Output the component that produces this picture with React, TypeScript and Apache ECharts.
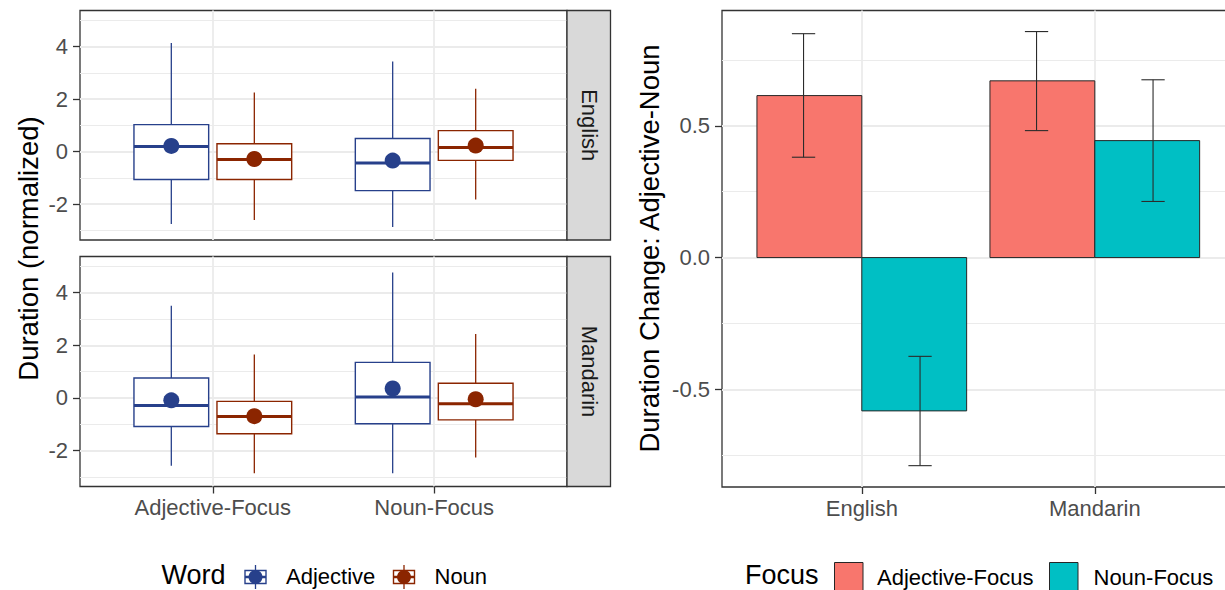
import React, { useEffect, useRef } from "react";
import * as echarts from "echarts";

const facets = ["English", "Mandarin"];
const focusLevels = ["Adjective-Focus", "Noun-Focus"];
const wordLevels = ["Adjective", "Noun"];

// box stats per focus level: [min, q1, median, q3, max, mean]
const englishAdjective = [
  [-2.75, -1.06, 0.2, 1.03, 4.13, 0.22],
  [-2.87, -1.48, -0.43, 0.5, 3.43, -0.34],
];
const englishNoun = [
  [-2.6, -1.06, -0.3, 0.3, 2.25, -0.28],
  [-1.82, -0.33, 0.16, 0.8, 2.39, 0.23],
];
const mandarinAdjective = [
  [-2.57, -1.08, -0.29, 0.76, 3.5, -0.09],
  [-2.86, -0.98, 0.04, 1.35, 4.76, 0.36],
];
const mandarinNoun = [
  [-2.86, -1.36, -0.7, -0.13, 1.65, -0.69],
  [-2.26, -0.83, -0.22, 0.56, 2.43, -0.05],
];
const durationTicks = [-2, 0, 2, 4];
const durationMinorTicks = [-3, -1, 1, 3, 5];

// right panel: mean change and error bar limits, per language
const changeAdjFocus = [0.615, 0.671];
const changeAdjFocusLow = [0.381, 0.482];
const changeAdjFocusHigh = [0.85, 0.858];
const changeNounFocus = [-0.582, 0.444];
const changeNounFocusLow = [-0.79, 0.213];
const changeNounFocusHigh = [-0.375, 0.675];
const changeTicks = [-0.5, 0, 0.5];
const changeMinorTicks = [-0.75, -0.25, 0.25, 0.75];

const BLUE = "#27408B";
const RED = "#8B2500";
const PINK = "#F8766D";
const TEAL = "#00BFC4";
const GRID = "#EBEBEB";
const BORDER = "#333333";
const TICKTEXT = "#4D4D4D";
const FONT = "'Liberation Sans', Arial, Helvetica, sans-serif";

const BOX_DODGE = 0.1875;
const BOX_HALF = 0.16875;
const BAR_HALF = 0.225;
const ERR_DODGE = 0.25;
const CAP_HALF = 0.05;

function boxRender(color: string) {
  return (params: any, api: any) => {
    const x = api.value(0);
    const pMin = api.coord([x, api.value(1)]);
    const pQ1 = api.coord([x, api.value(2)]);
    const pMed = api.coord([x, api.value(3)]);
    const pQ3 = api.coord([x, api.value(4)]);
    const pMax = api.coord([x, api.value(5)]);
    const pMean = api.coord([x, api.value(6)]);
    const left = api.coord([x - BOX_HALF, 0])[0];
    const right = api.coord([x + BOX_HALF, 0])[0];
    return {
      type: "group",
      children: [
        { type: "line", shape: { x1: pMax[0], y1: pMax[1], x2: pQ3[0], y2: pQ3[1] }, style: { stroke: color, lineWidth: 1.3 } },
        { type: "line", shape: { x1: pQ1[0], y1: pQ1[1], x2: pMin[0], y2: pMin[1] }, style: { stroke: color, lineWidth: 1.3 } },
        { type: "rect", shape: { x: left, y: pQ3[1], width: right - left, height: pQ1[1] - pQ3[1] }, style: { fill: "#ffffff", stroke: color, lineWidth: 1.4 } },
        { type: "line", shape: { x1: left, y1: pMed[1], x2: right, y2: pMed[1] }, style: { stroke: color, lineWidth: 3 } },
        { type: "circle", shape: { cx: pMean[0], cy: pMean[1], r: 8 }, style: { fill: color } },
      ],
    };
  };
}

function boxSeries(stats: number[][], offset: number, color: string, axisIndex: number) {
  return {
    type: "custom",
    xAxisIndex: axisIndex,
    yAxisIndex: axisIndex * 2,
    encode: { x: 0, y: [1, 2, 3, 4, 5, 6] },
    data: stats.map((s, i) => [i + 1 + offset, ...s]),
    renderItem: boxRender(color),
    z: 5,
  };
}

function barRender(color: string) {
  return (params: any, api: any) => {
    const x = api.value(0);
    const p0 = api.coord([x - BAR_HALF, 0]);
    const p1 = api.coord([x + BAR_HALF, api.value(1)]);
    const y = Math.min(p0[1], p1[1]);
    return {
      type: "rect",
      shape: { x: p0[0], y, width: p1[0] - p0[0], height: Math.abs(p1[1] - p0[1]) },
      style: { fill: color, stroke: "#262626", lineWidth: 1 },
    };
  };
}

function errRender(params: any, api: any) {
  const x = api.value(0);
  const lo = api.coord([x, api.value(1)]);
  const hi = api.coord([x, api.value(2)]);
  const l = api.coord([x - CAP_HALF, 0])[0];
  const r = api.coord([x + CAP_HALF, 0])[0];
  const st = { stroke: "#2b2b2b", lineWidth: 1.1 };
  return {
    type: "group",
    children: [
      { type: "line", shape: { x1: lo[0], y1: lo[1], x2: hi[0], y2: hi[1] }, style: st },
      { type: "line", shape: { x1: l, y1: lo[1], x2: r, y2: lo[1] }, style: st },
      { type: "line", shape: { x1: l, y1: hi[1], x2: r, y2: hi[1] }, style: st },
    ],
  };
}

function xAxisDef(gridIndex: number, labels: string[] | null) {
  return {
    type: "value",
    gridIndex,
    min: 0.4,
    max: 2.6,
    position: "bottom",
    axisLine: { show: false, onZero: false },
    axisTick: {
      show: !!labels,
      customValues: [1, 2],
      length: 7,
      lineStyle: { color: BORDER, width: 1.3 },
    },
    axisLabel: {
      show: !!labels,
      customValues: [1, 2],
      formatter: (v: number) => (labels ? labels[Math.round(v) - 1] : ""),
      fontSize: 22,
      color: TICKTEXT,
      fontFamily: FONT,
      margin: 10,
    },
    splitLine: { show: true, lineStyle: { color: GRID, width: 1.8 } },
  };
}

function yAxisPair(gridIndex: number, min: number, max: number, ticks: number[], minor: number[], fmt: (v: number) => string) {
  return [
    {
      type: "value",
      gridIndex,
      min,
      max,
      position: "left",
      axisLine: { show: false, onZero: false },
      axisTick: { show: true, customValues: ticks, length: 7, lineStyle: { color: BORDER, width: 1.3 } },
      axisLabel: { customValues: ticks, formatter: fmt, fontSize: 22, color: TICKTEXT, fontFamily: FONT, margin: 12 },
      splitLine: { show: true, lineStyle: { color: GRID, width: 1.8 } },
    },
    {
      type: "value",
      gridIndex,
      min,
      max,
      position: "left",
      axisLine: { show: false, onZero: false },
      axisTick: { show: false, customValues: minor },
      axisLabel: { show: false, customValues: minor },
      splitLine: { show: true, lineStyle: { color: GRID, width: 1 } },
    },
  ];
}

function legendBoxKey(cx: number, cy: number, color: string) {
  return [
    { type: "line", shape: { x1: cx, y1: cy - 12, x2: cx, y2: cy + 12 }, style: { stroke: color, lineWidth: 1.3 } },
    { type: "rect", shape: { x: cx - 10.5, y: cy - 6.5, width: 21, height: 13 }, style: { fill: "#ffffff", stroke: color, lineWidth: 1.4 } },
    { type: "line", shape: { x1: cx - 10.5, y1: cy, x2: cx + 10.5, y2: cy }, style: { stroke: color, lineWidth: 2.5 } },
    { type: "circle", shape: { cx, cy, r: 7 }, style: { fill: color } },
  ];
}

function txt(text: string, x: number, y: number, size: number, opts: any = {}) {
  return {
    type: "text",
    x,
    y,
    rotation: opts.rotation || 0,
    style: {
      text,
      fontSize: size,
      fontFamily: FONT,
      fill: opts.fill || "#000000",
      align: opts.align || "left",
      verticalAlign: "middle",
    },
    z: 20,
  };
}

export default function App() {
  const ref = useRef<HTMLDivElement>(null);
  useEffect(() => {
    if (!ref.current) return;
    const chart = echarts.init(ref.current, null, { renderer: "svg" });
    const yMin = -3.36;
    const yMax = 5.37;
    const cMin = -0.871;
    const cMax = 0.938;
    const gridStyle = { show: true, borderColor: BORDER, borderWidth: 1.3, backgroundColor: "transparent", containLabel: false, outerBoundsMode: "none" };

    const option: any = {
      animation: false,
      textStyle: { fontFamily: FONT },
      grid: [
        { left: 80, top: 10.5, width: 487, height: 229.5, ...gridStyle },
        { left: 80, top: 256.5, width: 487, height: 230, ...gridStyle },
        { left: 722, top: 10.5, width: 512.6, height: 476.5, ...gridStyle },
      ],
      xAxis: [xAxisDef(0, null), xAxisDef(1, focusLevels), xAxisDef(2, facets)],
      yAxis: [
        ...yAxisPair(0, yMin, yMax, durationTicks, durationMinorTicks, (v) => String(v)),
        ...yAxisPair(1, yMin, yMax, durationTicks, durationMinorTicks, (v) => String(v)),
        ...yAxisPair(2, cMin, cMax, changeTicks, changeMinorTicks, (v) => v.toFixed(1)),
      ],
      series: [
        boxSeries(englishAdjective, -BOX_DODGE, BLUE, 0),
        boxSeries(englishNoun, BOX_DODGE, RED, 0),
        boxSeries(mandarinAdjective, -BOX_DODGE, BLUE, 1),
        boxSeries(mandarinNoun, BOX_DODGE, RED, 1),
        {
          type: "custom",
          xAxisIndex: 2,
          yAxisIndex: 4,
          encode: { x: 0, y: 1 },
          data: changeAdjFocus.map((v, i) => [i + 1 - BAR_HALF, v]),
          renderItem: barRender(PINK),
          z: 3,
        },
        {
          type: "custom",
          xAxisIndex: 2,
          yAxisIndex: 4,
          encode: { x: 0, y: 1 },
          data: changeNounFocus.map((v, i) => [i + 1 + BAR_HALF, v]),
          renderItem: barRender(TEAL),
          z: 3,
        },
        {
          type: "custom",
          xAxisIndex: 2,
          yAxisIndex: 4,
          encode: { x: 0, y: [1, 2] },
          data: changeAdjFocusLow.map((v, i) => [i + 1 - ERR_DODGE, v, changeAdjFocusHigh[i]]),
          renderItem: errRender,
          z: 4,
        },
        {
          type: "custom",
          xAxisIndex: 2,
          yAxisIndex: 4,
          encode: { x: 0, y: [1, 2] },
          data: changeNounFocusLow.map((v, i) => [i + 1 + ERR_DODGE, v, changeNounFocusHigh[i]]),
          renderItem: errRender,
          z: 4,
        },
      ],
      graphic: [
        // facet strips
        { type: "rect", shape: { x: 567, y: 10.5, width: 43.5, height: 229.5 }, style: { fill: "#D9D9D9", stroke: BORDER, lineWidth: 1.3 }, z: 10 },
        { type: "rect", shape: { x: 567, y: 256.5, width: 43.5, height: 230 }, style: { fill: "#D9D9D9", stroke: BORDER, lineWidth: 1.3 }, z: 10 },
        txt(facets[0], 589, 125.25, 22, { align: "center", rotation: -Math.PI / 2, fill: "#1A1A1A" }),
        txt(facets[1], 589, 371.5, 22, { align: "center", rotation: -Math.PI / 2, fill: "#1A1A1A" }),
        // axis titles
        txt("Duration (normalized)", 28, 248.5, 27.5, { align: "center", rotation: Math.PI / 2 }),
        txt("Duration Change: Adjective-Noun", 649, 248.5, 27.5, { align: "center", rotation: Math.PI / 2 }),
        // left legend
        txt("Word", 161.5, 575, 27),
        ...legendBoxKey(255.5, 577, BLUE),
        txt(wordLevels[0], 286, 576.5, 22),
        ...legendBoxKey(404, 577, RED),
        txt(wordLevels[1], 434.5, 576.5, 22),
        // right legend
        txt("Focus", 745, 575, 27),
        { type: "rect", shape: { x: 834.5, y: 562.5, width: 28.5, height: 28.5 }, style: { fill: PINK, stroke: "#262626", lineWidth: 1 } },
        txt(focusLevels[0], 877, 577, 22),
        { type: "rect", shape: { x: 1049.5, y: 562.5, width: 28.5, height: 28.5 }, style: { fill: TEAL, stroke: "#262626", lineWidth: 1 } },
        txt(focusLevels[1], 1093.5, 577, 22),
      ],
    };
    chart.setOption(option);
    return () => chart.dispose();
  }, []);
  return (
    <div
      ref={ref}
      style={{ position: "fixed", left: 0, top: 0, width: 1225, height: 590, background: "#ffffff" }}
    />
  );
}
